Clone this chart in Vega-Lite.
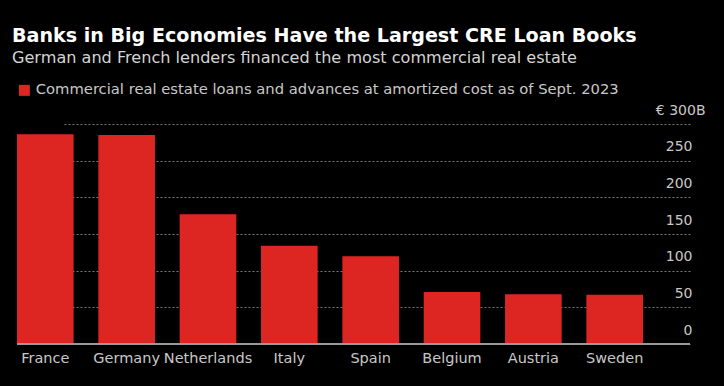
{
  "$schema": "https://vega.github.io/schema/vega-lite/v6.json",
  "width": 673,
  "height": 220,
  "autosize": "none",
  "padding": {"left": 17, "top": 124, "right": 34, "bottom": 42},
  "background": "#000000",
  "title": {
    "text": "Banks in Big Economies Have the Largest CRE Loan Books",
    "subtitle": "German and French lenders financed the most commercial real estate",
    "anchor": "start",
    "frame": "group",
    "offset": 16.5,
    "dx": -5,
    "font": "DejaVu Sans",
    "fontWeight": "bold",
    "fontSize": 19.1,
    "color": "#ffffff",
    "subtitleFont": "DejaVu Sans",
    "subtitleFontSize": 16.1,
    "subtitleColor": "#d4d4d4",
    "subtitlePadding": 4.5
  },
  "data": {
    "values": [
      {"country": "France", "value": 286},
      {"country": "Germany", "value": 285},
      {"country": "Netherlands", "value": 177},
      {"country": "Italy", "value": 134},
      {"country": "Spain", "value": 119.5},
      {"country": "Belgium", "value": 71},
      {"country": "Austria", "value": 68},
      {"country": "Sweden", "value": 67}
    ]
  },
  "layer": [
    {
      "mark": {"type": "bar"},
      "encoding": {
        "x": {
          "field": "country",
          "type": "nominal",
          "sort": null,
          "scale": {"range": [0, 626], "paddingInner": 0.304, "paddingOuter": 0},
          "axis": {
            "title": null,
            "domain": false,
            "ticks": false,
            "labelAngle": 0,
            "labelFont": "DejaVu Sans",
            "labelFontSize": 14.5,
            "labelColor": "#c8c8c8",
            "labelPadding": 7,
            "labelBaseline": "top"
          }
        },
        "y": {
          "field": "value",
          "type": "quantitative",
          "scale": {"domain": [0, 300], "nice": false},
          "axis": {
            "orient": "right",
            "title": null,
            "values": [0, 50, 100, 150, 200, 250, 300],
            "labelExpr": "datum.value == 300 ? '€ 300B' : datum.label",
            "labelAlign": "right",
            "labelBaseline": "alphabetic",
            "labelOffset": -10,
            "labelPadding": {"condition": {"test": "datum.value == 300", "value": 15}, "value": 2},
            "labelOverlap": false,
            "labelBound": false,
            "domain": false,
            "ticks": false,
            "grid": true,
            "gridColor": "#7a7a7a",
            "gridDash": [2, 2],
            "gridWidth": 1,
            "labelFont": "DejaVu Sans",
            "labelFontSize": 14,
            "labelColor": "#c8c8c8"
          }
        },
        "color": {
          "datum": "Commercial real estate loans and advances at amortized cost as of Sept. 2023",
          "type": "nominal",
          "scale": {"range": ["#dd2622"]},
          "legend": {
            "orient": "none",
            "legendX": 0,
            "legendY": -41,
            "title": null,
            "symbolType": "square",
            "symbolSize": 120,
            "symbolStrokeWidth": 0,
            "labelFont": "DejaVu Sans",
            "labelFontSize": 14.75,
            "labelColor": "#c8c8c8",
            "labelLimit": 700
          }
        }
      }
    },
    {
      "mark": {"type": "rule", "color": "#9a9a9a", "strokeWidth": 1.5},
      "encoding": {
        "y": {
          "datum": 0,
          "type": "quantitative",
          "axis": {
            "orient": "right",
            "title": null,
            "values": [0, 50, 100, 150, 200, 250, 300],
            "labelExpr": "datum.value == 300 ? '€ 300B' : datum.label",
            "labelAlign": "right",
            "labelBaseline": "alphabetic",
            "labelOffset": -10,
            "labelPadding": {"condition": {"test": "datum.value == 300", "value": 15}, "value": 2},
            "labelOverlap": false,
            "labelBound": false,
            "domain": false,
            "ticks": false,
            "grid": true,
            "gridColor": "#7a7a7a",
            "gridDash": [2, 2],
            "gridWidth": 1,
            "labelFont": "DejaVu Sans",
            "labelFontSize": 14,
            "labelColor": "#c8c8c8"
          }
        }
      }
    }
  ],
  "config": {"view": {"stroke": null}}
}
